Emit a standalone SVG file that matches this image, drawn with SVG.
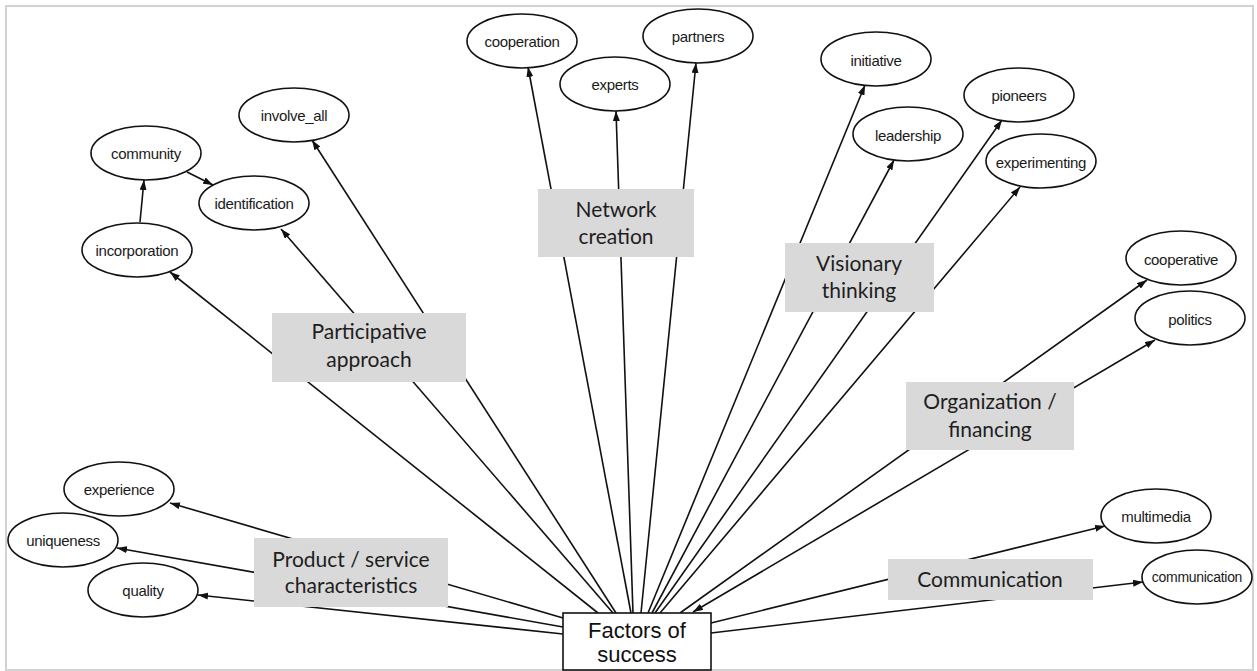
<svg xmlns="http://www.w3.org/2000/svg" width="1257" height="671" viewBox="0 0 1257 671">
<style>
.frame{fill:#fff;stroke:#d2d2d2;stroke-width:2}
.edge{stroke:#111;stroke-width:1.6;fill:none;marker-end:url(#ah)}
.leaf ellipse{fill:#fff;stroke:#111;stroke-width:1.6}
.leaf text{font-family:"Liberation Sans",Arial,sans-serif;font-size:15px;letter-spacing:-0.3px;fill:#1a1a1a;text-anchor:middle}
.cat rect{fill:#d9d9d9;stroke:none}
.cat text{font-family:Lato,"Open Sans",sans-serif;font-size:21px;fill:#1e1e1e;text-anchor:middle}
.root rect{fill:#fff;stroke:#111;stroke-width:1.6}
.root text{font-family:"Liberation Sans",Arial,sans-serif;font-size:22px;fill:#111;text-anchor:middle}
</style>
<defs>
<marker id="ah" viewBox="0 0 10 7" refX="10" refY="3.5" markerWidth="10" markerHeight="7" markerUnits="userSpaceOnUse" orient="auto-start-reverse">
<path d="M0,0 L10,3.5 L0,7 z" fill="#111"/>
</marker>
</defs>
<rect class="frame" x="6" y="6" width="1247" height="664"/>
<g id="connectors">
<line class="edge" x1="598" y1="613" x2="170" y2="272"/>
<line class="edge" x1="613" y1="613" x2="281" y2="229"/>
<line class="edge" x1="616" y1="613" x2="312" y2="140"/>
<line class="edge" x1="140" y1="222" x2="144" y2="180"/>
<line class="edge" x1="187" y1="172" x2="213" y2="185"/>
<line class="edge" x1="631" y1="613" x2="528" y2="67"/>
<line class="edge" x1="633" y1="613" x2="616" y2="111"/>
<line class="edge" x1="641" y1="613" x2="696" y2="63"/>
<line class="edge" x1="648" y1="613" x2="865" y2="85"/>
<line class="edge" x1="652" y1="613" x2="894" y2="160"/>
<line class="edge" x1="655" y1="613" x2="1002" y2="120"/>
<line class="edge" x1="660" y1="613" x2="1020" y2="187"/>
<line class="edge" x1="680" y1="613" x2="1147" y2="280"/>
<line class="edge" x1="693" y1="612" x2="1155" y2="340" style="marker-start:url(#ah)"/>
<line class="edge" x1="711" y1="623" x2="1105" y2="526"/>
<line class="edge" x1="711" y1="633" x2="1143" y2="582"/>
<line class="edge" x1="563" y1="618" x2="170" y2="503"/>
<line class="edge" x1="563" y1="627" x2="117" y2="548"/>
<line class="edge" x1="563" y1="634" x2="198" y2="595"/>
</g>
<g id="participative" class="cat"><rect x="272" y="313" width="194" height="69"/><text x="369" y="339">Participative</text><text x="369" y="367">approach</text></g>
<g id="network" class="cat"><rect x="538" y="189" width="156" height="68"/><text x="616" y="217">Network</text><text x="616" y="244">creation</text></g>
<g id="visionary" class="cat"><rect x="785" y="243" width="149" height="69"/><text x="859" y="271">Visionary</text><text x="859" y="298">thinking</text></g>
<g id="organization" class="cat"><rect x="906" y="382" width="168" height="68"/><text x="990" y="409">Organization /</text><text x="990" y="437">financing</text></g>
<g id="communicationcat" class="cat"><rect x="888" y="559" width="205" height="41"/><text x="990" y="587">Communication</text></g>
<g id="product" class="cat"><rect x="254" y="538" width="194" height="69"/><text x="351" y="567">Product / service</text><text x="351" y="593">characteristics</text></g>
<g id="involve_all" class="leaf"><ellipse cx="294" cy="115" rx="55" ry="27"/><text x="294" y="121">involve_all</text></g>
<g id="community" class="leaf"><ellipse cx="146" cy="153" rx="55" ry="27"/><text x="146" y="159">community</text></g>
<g id="identification" class="leaf"><ellipse cx="254" cy="203" rx="55" ry="27"/><text x="254" y="209">identification</text></g>
<g id="incorporation" class="leaf"><ellipse cx="137" cy="250" rx="55" ry="27"/><text x="137" y="256">incorporation</text></g>
<g id="cooperation" class="leaf"><ellipse cx="522" cy="41" rx="55" ry="27"/><text x="522" y="47">cooperation</text></g>
<g id="experts" class="leaf"><ellipse cx="615" cy="84" rx="55" ry="27"/><text x="615" y="90">experts</text></g>
<g id="partners" class="leaf"><ellipse cx="698" cy="36" rx="55" ry="27"/><text x="698" y="42">partners</text></g>
<g id="initiative" class="leaf"><ellipse cx="876" cy="59" rx="55" ry="27"/><text x="876" y="66">initiative</text></g>
<g id="leadership" class="leaf"><ellipse cx="908" cy="134" rx="55" ry="27"/><text x="908" y="141">leadership</text></g>
<g id="pioneers" class="leaf"><ellipse cx="1019" cy="95" rx="55" ry="27"/><text x="1019" y="101">pioneers</text></g>
<g id="experimenting" class="leaf"><ellipse cx="1041" cy="161" rx="55" ry="27"/><text x="1041" y="168">experimenting</text></g>
<g id="cooperative" class="leaf"><ellipse cx="1181" cy="258" rx="55" ry="27"/><text x="1181" y="265">cooperative</text></g>
<g id="politics" class="leaf"><ellipse cx="1190" cy="318" rx="55" ry="27"/><text x="1190" y="325">politics</text></g>
<g id="multimedia" class="leaf"><ellipse cx="1156" cy="516" rx="55" ry="27"/><text x="1156" y="522">multimedia</text></g>
<g id="communication" class="leaf"><ellipse cx="1197" cy="577" rx="55" ry="27"/><text x="1197" y="582" style="font-size:14px">communication</text></g>
<g id="experience" class="leaf"><ellipse cx="119" cy="489" rx="55" ry="27"/><text x="119" y="495">experience</text></g>
<g id="uniqueness" class="leaf"><ellipse cx="63" cy="540" rx="55" ry="27"/><text x="63" y="546">uniqueness</text></g>
<g id="quality" class="leaf"><ellipse cx="143" cy="590" rx="55" ry="27"/><text x="143" y="596">quality</text></g>
<g id="factors" class="root"><rect x="563" y="613" width="148" height="57"/><text x="637" y="638">Factors of</text><text x="637" y="662">success</text></g>
</svg>
